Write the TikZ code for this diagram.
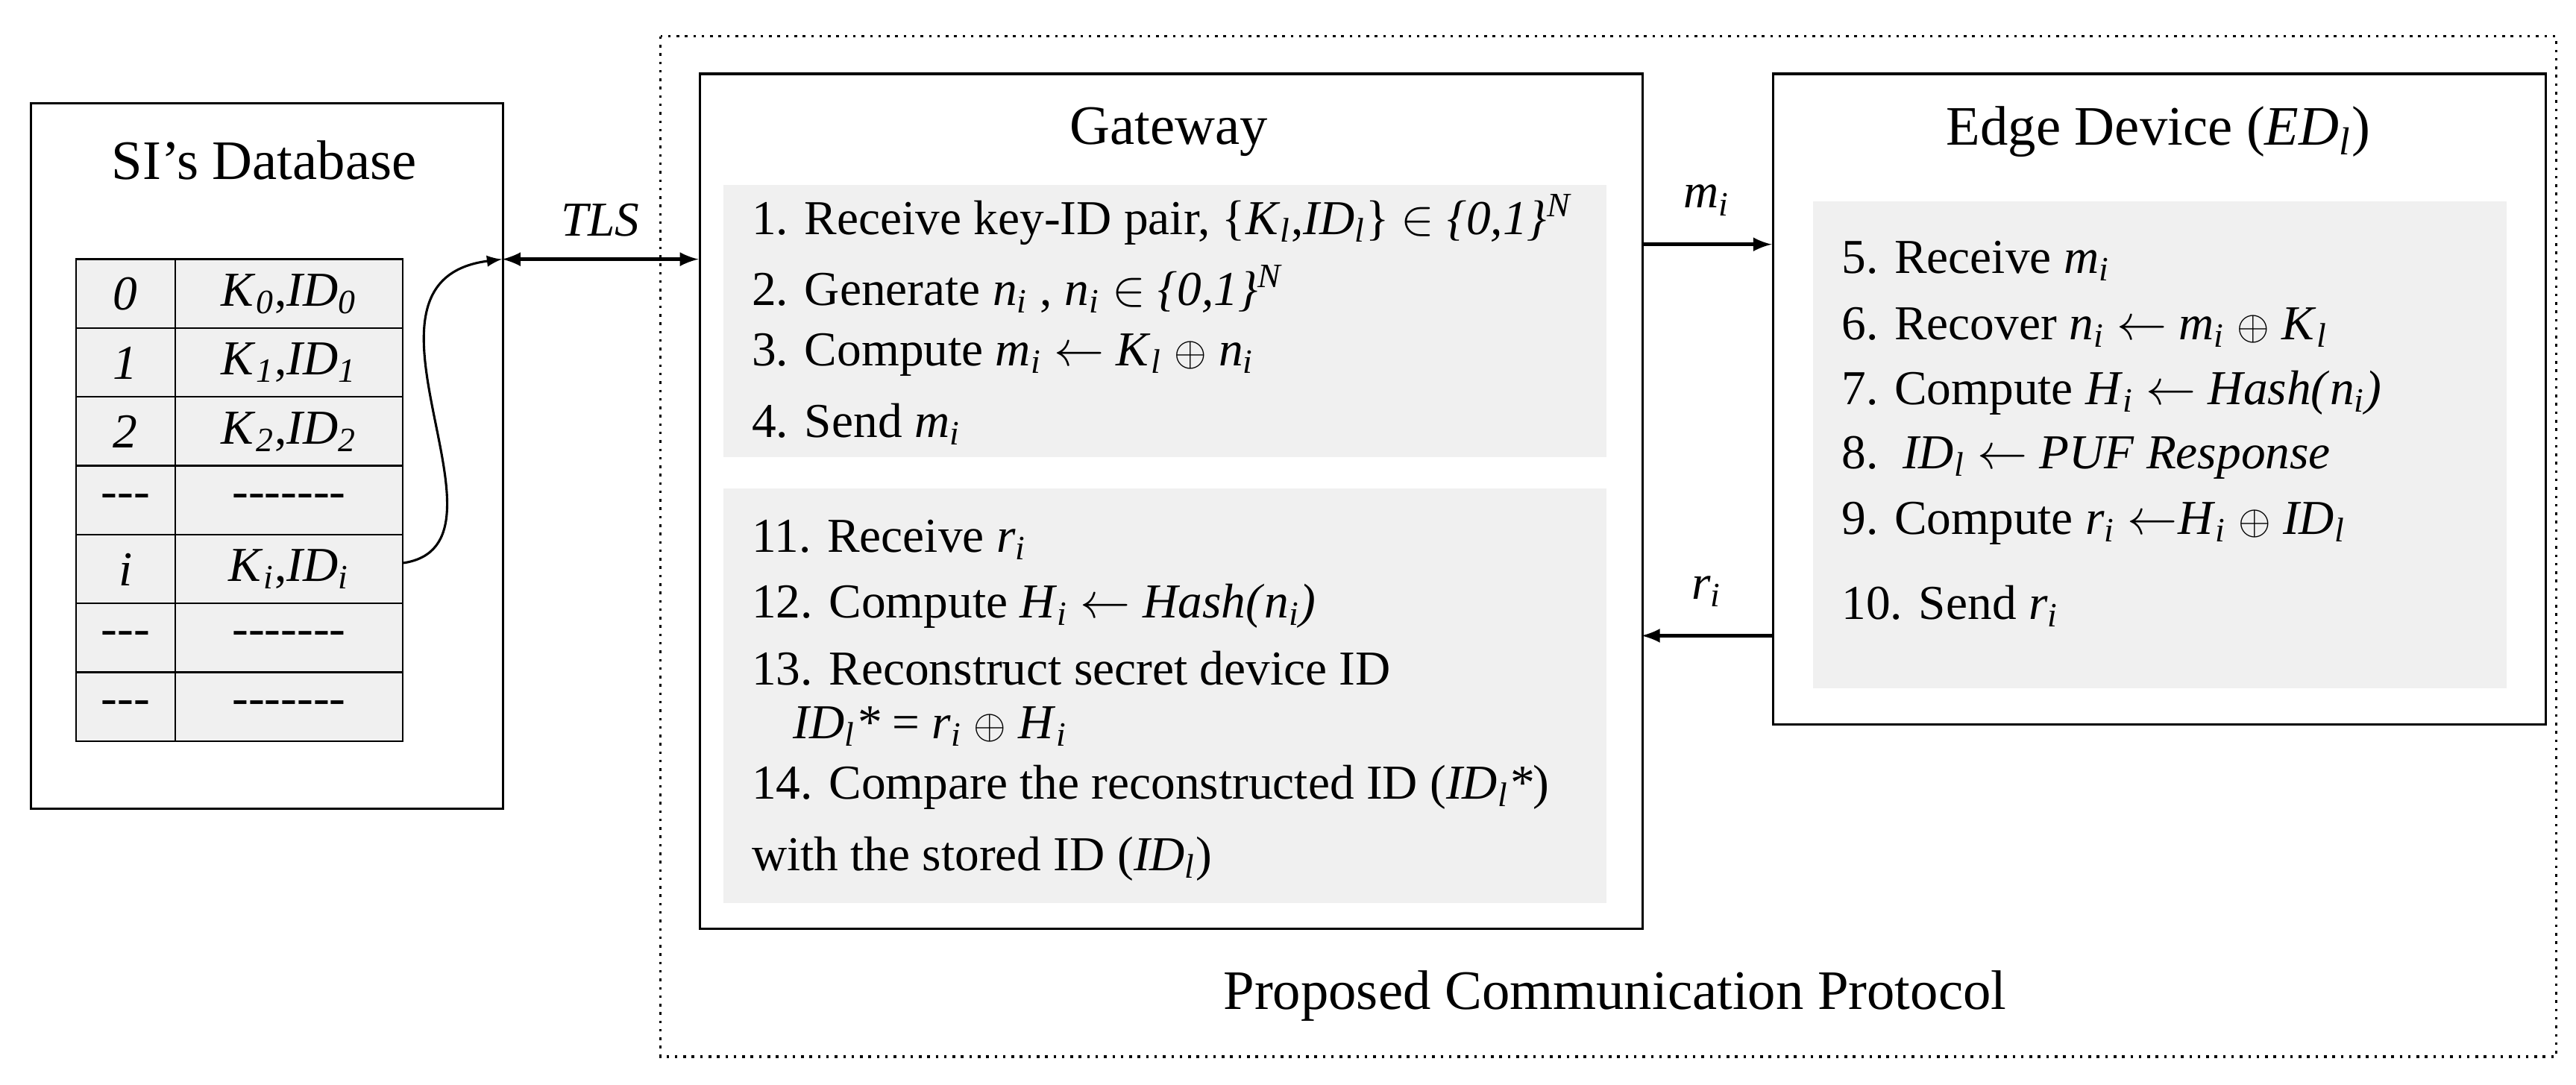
\documentclass[tikz,border=0pt]{standalone}
\usepackage{fontspec}
\setmainfont{Liberation Serif}
\newcommand{\ssub}[2]{\textit{#1}\textsubscript{\textit{#2}}}
\newcommand{\xor}{{\Large$\oplus$}}
\newcommand{\dsh}[1]{\foreach \q in {1,...,#1}{-\kern0.5pt}}
\begin{document}
\begin{tikzpicture}[x=0.02cm,y=-0.02cm,
  every node/.style={font=\fontsize{16.8}{19}\selectfont},
  box/.style={draw,line width=0.8pt},
  panel/.style={fill=black!6,draw=none},
  cell/.style={draw,fill=black!6,line width=0.6pt},
  line/.style={anchor=west,inner sep=0pt},
  ttl/.style={font=\fontsize{19.2}{22}\selectfont},
  arr/.style={-latex,line width=1.2pt}]
\useasboundingbox (0,0) rectangle (1560,657);
\draw[dotted,line width=0.9pt] (400,22) rectangle (1548,640);
% database
\node[box,minimum width=286*0.02cm,minimum height=427*0.02cm,anchor=north west] (db) at (18,62) {};
\node[ttl] (dbt) at (160,97) {SI's Database};
\foreach \r/\a [count=\k from 0] in {{\textit{0}}/{\ssub{K}{0},\ssub{ID}{0}},{\textit{1}}/{\ssub{K}{1},\ssub{ID}{1}},{\textit{2}}/{\ssub{K}{2},\ssub{ID}{2}},{-{}-{}-}/{-{}-{}-{}-{}-{}-{}-},{\textit{i}}/{\ssub{K}{i},\ssub{ID}{i}},{-{}-{}-}/{-{}-{}-{}-{}-{}-{}-},{-{}-{}-}/{-{}-{}-{}-{}-{}-{}-}}{
  \draw[cell] (46,157+41.7*\k) rectangle (106,198.7+41.7*\k);
  \draw[cell] (106,157+41.7*\k) rectangle (244,198.7+41.7*\k);
  \node at (76,178+41.7*\k) {\r};
  \node at (175,178+41.7*\k) {\a};
}
\coordinate (ci) at (244,341);
\coordinate (tl) at (304,157);
% gateway
\node[box,minimum width=571*0.02cm,minimum height=518*0.02cm,anchor=north west] (gw) at (423,44) {};
\node[ttl] (gwt) at (708,80) {Gateway};
\fill[panel] (438,112) rectangle (973,277);
\fill[panel] (438,296) rectangle (973,547);
\node[line] (g1) at (455,133) {1. Receive key-ID pair, \{\ssub{K}{l},\ssub{ID}{l}\} $\in$ \textit{\{0,1\}}\textsuperscript{\textit{N}}};
\node[line] (g2) at (455,175) {2. Generate \ssub{n}{i} , \ssub{n}{i} $\in$ \textit{\{0,1\}}\textsuperscript{\textit{N}}};
\node[line] (g3) at (455,215) {3. Compute \ssub{m}{i} $\leftarrow$ \ssub{K}{l} \xor{} \ssub{n}{i}};
\node[line] (g4) at (455,257) {4. Send \ssub{m}{i}};
\node[line] (g11) at (455,327) {11. Receive \ssub{r}{i}};
\node[line] (g12) at (455,367) {12. Compute \ssub{H}{i} $\leftarrow$ \textit{Hash(}\ssub{n}{i}\textit{)}};
\node[line] (g13) at (455,405) {13. Reconstruct secret device ID};
\node[line] (g13b) at (480,440) {\ssub{ID}{l}\textit{*} = \ssub{r}{i} \xor{} \ssub{H}{i}};
\node[line] (g14) at (455,477) {14. Compare the reconstructed ID (\ssub{ID}{l}\textit{*})};
\node[line] (g14b) at (455,520) {with the stored ID (\ssub{ID}{l})};
% edge
\node[box,minimum width=468*0.02cm,minimum height=394*0.02cm,anchor=north west] (ed) at (1073,44) {};
\node[ttl] (edt) at (1307,80) {Edge Device (\ssub{ED}{l})};
\fill[panel] (1098,122) rectangle (1518,417);
\node[line] (e5) at (1115,158) {5. Receive \ssub{m}{i}};
\node[line] (e6) at (1115,198) {6. Recover \ssub{n}{i} $\leftarrow$ \ssub{m}{i} \xor{} \ssub{K}{l}};
\node[line] (e7) at (1115,238) {7. Compute \ssub{H}{i} $\leftarrow$ \textit{Hash(}\ssub{n}{i}\textit{)}};
\node[line] (e8) at (1115,277) {8.\ \ \ssub{ID}{l} $\leftarrow$ \textit{PUF Response}};
\node[line] (e9) at (1115,317) {9. Compute \ssub{r}{i} $\leftarrow$\ssub{H}{i} \xor{} \ssub{ID}{l}};
\node[line] (e10) at (1115,367) {10. Send \ssub{r}{i}};
% connectors
\coordinate (gl) at (423,157);
\draw[latex-latex,line width=1.2pt] (tl) -- (gl) node[midway,above=4pt] {\textit{TLS}};
\draw[-latex,line width=0.8pt] (ci) .. controls (320,330) and (200,170) .. (tl);
\coordinate (ma) at (994,148); \coordinate (mb) at (1073,148);
\draw[arr] (ma) -- (mb) node[midway,above=6pt] {\ssub{m}{i}};
\coordinate (ra) at (1073,385); \coordinate (rb) at (994,385);
\draw[arr] (ra) -- (rb) node[midway,above=6pt] {\ssub{r}{i}};
\node[ttl] (pcp) at (978,603) {Proposed Communication Protocol};
\end{tikzpicture}
\end{document}
